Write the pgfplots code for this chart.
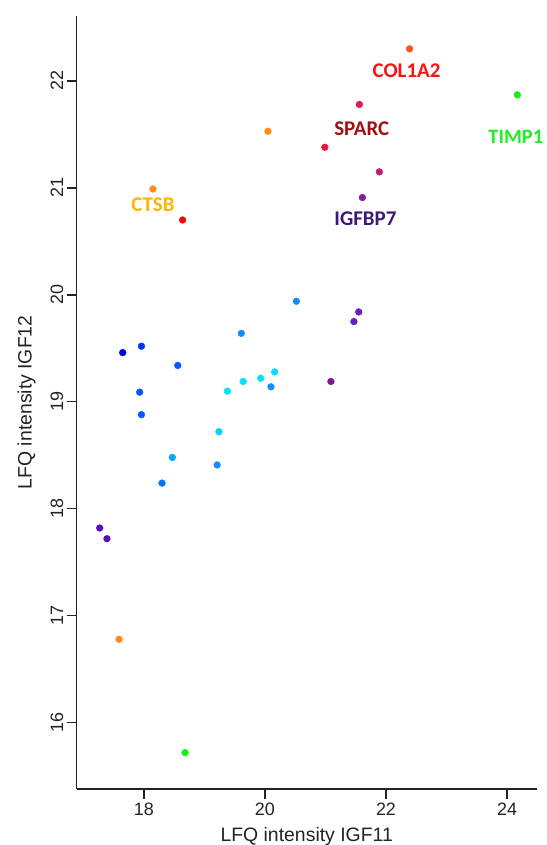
\documentclass[border=0pt]{standalone}
\usepackage{pgfplots}
\pgfplotsset{compat=1.18}
\usepackage{fontspec}
\setmainfont{Liberation Sans}
\newfontfamily\carlito{Carlito}
\definecolor{corg}{RGB}{255,80,30}
\definecolor{cgreen}{RGB}{20,240,20}
\definecolor{ccrim}{RGB}{225,25,90}
\definecolor{corange}{RGB}{255,140,20}
\definecolor{credpink}{RGB}{240,20,60}
\definecolor{cmag}{RGB}{190,30,110}
\definecolor{cpurple}{RGB}{130,30,160}
\definecolor{cpurple2}{RGB}{125,25,145}
\definecolor{cred}{RGB}{255,0,0}
\definecolor{cdodger}{RGB}{20,140,255}
\definecolor{cblue1}{RGB}{0,0,240}
\definecolor{cblue2}{RGB}{0,50,255}
\definecolor{cblue3}{RGB}{0,90,255}
\definecolor{cblue4}{RGB}{0,115,255}
\definecolor{ccyan}{RGB}{0,225,255}
\definecolor{ccyan2}{RGB}{0,210,255}
\definecolor{csky}{RGB}{0,170,255}
\definecolor{cviolet}{RGB}{100,30,200}
\definecolor{cindigo}{RGB}{85,15,190}
\definecolor{axgray}{RGB}{35,35,35}
\pgfplotstableread{
x y c
22.39 22.30 orangered
24.17 21.87 green
21.56 21.78 crimson
20.05 21.53 orange
20.99 21.38 redpink
21.89 21.15 magenta
21.61 20.91 purple
18.15 20.99 orange
18.64 20.70 red
20.52 19.94 dodger
19.61 19.64 dodger
17.96 19.52 blue2
17.65 19.46 blue1
18.56 19.34 blue3
20.16 19.28 cyan
19.93 19.22 cyan
19.64 19.19 cyan
20.10 19.14 dodger
19.38 19.10 cyan
17.93 19.09 blue3
17.96 18.88 blue3
19.24 18.72 cyantwo
18.47 18.48 sky
19.21 18.41 dodger
18.30 18.24 blue4
21.09 19.19 purpletwo
21.55 19.84 violet
21.47 19.75 violet
17.27 17.82 indigo
17.39 17.72 indigo
17.59 16.78 orange
18.68 15.72 green
}\pts
\begin{document}
\begin{tikzpicture}
\path[use as bounding box] (-76.7bp,-56bp) rectangle (470.3bp,789bp);
\begin{axis}[
  scale only axis, width=460bp, height=773.3bp,
  xmin=16.89, xmax=24.49, ymin=15.38, ymax=22.61,
  axis lines=left,
  axis line style={-, line width=1.3bp, axgray},
  xtick={18,20,22,24}, ytick={16,17,18,19,20,21,22},
  minor tick num=0,
  tick style={line width=1.3bp, axgray},
  tick align=outside, major tick length=10bp,
  /pgf/number format/assume math mode=true,
  ticklabel style={font=\fontsize{18}{20}\selectfont, text=axgray},
  yticklabel style={rotate=90, anchor=south},
  xlabel={LFQ intensity IGF11}, ylabel={LFQ intensity IGF12},
  label style={font=\fontsize{19.5}{22}\selectfont, text=axgray},
  x label style={at={(axis description cs:0.5,-0.0681)}, anchor=base},
  y label style={at={(axis description cs:-0.0978,0.5)}, anchor=base, rotate=0},
  clip=false,
  scatter/classes={
    orangered={mark=*,fill=corg,draw=corg},
    green={mark=*,fill=cgreen,draw=cgreen},
    crimson={mark=*,fill=ccrim,draw=ccrim},
    orange={mark=*,fill=corange,draw=corange},
    redpink={mark=*,fill=credpink,draw=credpink},
    magenta={mark=*,fill=cmag,draw=cmag},
    purple={mark=*,fill=cpurple,draw=cpurple},
    purpletwo={mark=*,fill=cpurple2,draw=cpurple2},
    red={mark=*,fill=cred,draw=cred},
    dodger={mark=*,fill=cdodger,draw=cdodger},
    blue1={mark=*,fill=cblue1,draw=cblue1},
    blue2={mark=*,fill=cblue2,draw=cblue2},
    blue3={mark=*,fill=cblue3,draw=cblue3},
    blue4={mark=*,fill=cblue4,draw=cblue4},
    cyan={mark=*,fill=ccyan,draw=ccyan},
    cyantwo={mark=*,fill=ccyan2,draw=ccyan2},
    sky={mark=*,fill=csky,draw=csky},
    violet={mark=*,fill=cviolet,draw=cviolet},
    indigo={mark=*,fill=cindigo,draw=cindigo}
  },
]
\addplot[scatter, only marks, mark size=3.4bp, scatter src=explicit symbolic]
  table[x=x, y=y, meta=c] {\pts};
\node[font=\carlito\bfseries\fontsize{21}{24}\selectfont, text={rgb,255:red,255;green,16;blue,16}] at (axis cs:22.34,22.10) {COL1A2};
\node[font=\carlito\bfseries\fontsize{21}{24}\selectfont, text={rgb,255:red,160;green,16;blue,16}] at (axis cs:21.60,21.55) {SPARC};
\node[font=\carlito\bfseries\fontsize{20.5}{24}\selectfont, text={rgb,255:red,34;green,238;blue,34}, anchor=west, inner sep=0pt] at (axis cs:23.69,21.48) {TIMP1};
\node[font=\carlito\bfseries\fontsize{21}{24}\selectfont, text={rgb,255:red,255;green,180;blue,0}] at (axis cs:18.15,20.84) {CTSB};
\node[font=\carlito\bfseries\fontsize{21}{24}\selectfont, text={rgb,255:red,58;green,26;blue,120}] at (axis cs:21.66,20.71) {IGFBP7};
\end{axis}
\end{tikzpicture}
\end{document}
